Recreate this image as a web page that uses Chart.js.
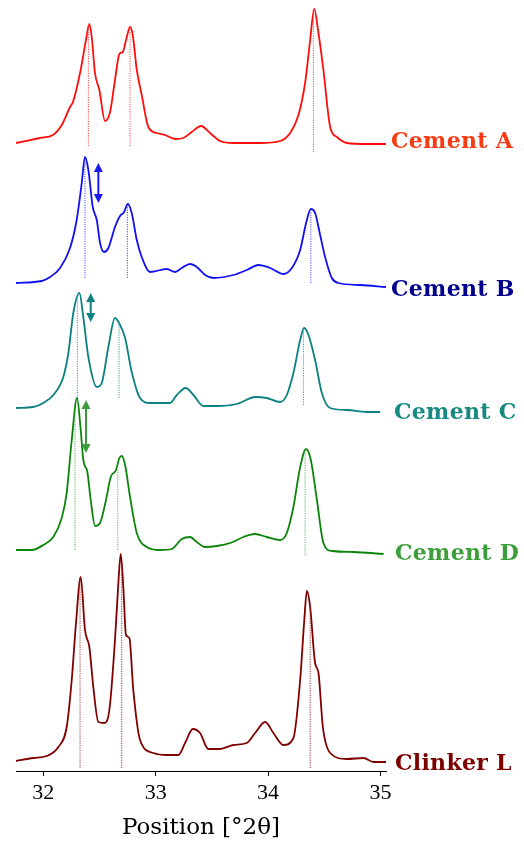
<!DOCTYPE html>
<html>
<head>
<meta charset="utf-8">
<script src="https://cdn.jsdelivr.net/npm/chart.js@4/dist/chart.umd.min.js"></script>
<style>
  html, body { margin: 0; padding: 0; background: #fff; }
  #wrap { width: 524px; height: 852px; position: relative; }
</style>
</head>
<body>
<div id="wrap"><canvas id="xrd"></canvas></div>
<script>
// X-ray diffraction patterns, 2θ between about 31.75 and 35.05 degrees
const positionTicks = [32, 33, 34, 35];
const seriesNames = ['Cement A', 'Cement B', 'Cement C', 'Cement D', 'Clinker L'];

const cementA_2theta = [31.757, 31.971, 32.086, 32.164, 32.238, 32.264, 32.327, 32.380, 32.410, 32.431, 32.460, 32.499, 32.549, 32.594, 32.638, 32.677, 32.707, 32.743, 32.772, 32.796, 32.832, 32.876, 32.935, 33.010, 33.084, 33.173, 33.247, 33.321, 33.404, 33.484, 33.573, 33.692, 33.930, 34.108, 34.197, 34.271, 34.330, 34.375, 34.411, 34.449, 34.493, 34.553, 34.613, 34.702, 34.880, 35.050];
const cementA_counts = [1, 6, 9, 19, 37, 42, 71, 104, 120, 107, 71, 54, 23, 32, 64, 90, 92, 107, 117, 109, 74, 49, 17, 11, 9, 5, 6, 12, 18, 11, 3, 1, 1, 3, 11, 29, 61, 104, 135, 111, 74, 17, 7, 1, 0, 0];

const cementB_2theta = [31.757, 31.986, 32.060, 32.149, 32.238, 32.297, 32.342, 32.371, 32.401, 32.440, 32.476, 32.505, 32.541, 32.579, 32.638, 32.683, 32.719, 32.752, 32.787, 32.832, 32.876, 32.950, 33.099, 33.173, 33.232, 33.306, 33.366, 33.440, 33.514, 33.692, 33.811, 33.915, 34.019, 34.137, 34.212, 34.286, 34.339, 34.381, 34.419, 34.464, 34.508, 34.568, 34.627, 34.820, 35.050];
const cementB_counts = [2, 4, 8, 17, 37, 65, 102, 128, 115, 78, 65, 42, 33, 37, 58, 69, 73, 81, 72, 45, 28, 13, 16, 13, 17, 21, 18, 10, 7, 10, 15, 20, 17, 11, 17, 35, 62, 76, 72, 50, 28, 7, 2, 0, -2];

const cementC_2theta = [31.757, 31.911, 32.000, 32.089, 32.178, 32.223, 32.267, 32.321, 32.356, 32.401, 32.476, 32.520, 32.579, 32.638, 32.683, 32.728, 32.787, 32.861, 32.950, 33.128, 33.188, 33.268, 33.336, 33.425, 33.544, 33.722, 33.885, 33.989, 34.108, 34.167, 34.226, 34.286, 34.321, 34.360, 34.419, 34.479, 34.553, 34.702, 34.880, 34.998];
const cementC_counts = [0, 1, 5, 13, 31, 55, 95, 115, 91, 51, 21, 25, 61, 90, 83, 70, 36, 10, 5, 5, 13, 20, 13, 2, 2, 4, 11, 10, 6, 13, 35, 68, 80, 73, 48, 15, 0, -2, -4, -4];

const cementD_2theta = [31.757, 31.897, 32.000, 32.089, 32.164, 32.208, 32.253, 32.300, 32.333, 32.356, 32.392, 32.422, 32.460, 32.505, 32.558, 32.600, 32.647, 32.677, 32.698, 32.728, 32.772, 32.832, 32.921, 33.039, 33.143, 33.232, 33.306, 33.366, 33.440, 33.544, 33.663, 33.781, 33.885, 33.989, 34.108, 34.167, 34.226, 34.286, 34.339, 34.381, 34.435, 34.493, 34.568, 34.760, 35.028];
const cementD_counts = [0, 0, 5, 13, 32, 57, 110, 152, 120, 90, 78, 50, 24, 27, 50, 73, 80, 92, 94, 85, 53, 17, 3, 0, 1, 11, 13, 8, 3, 4, 7, 13, 16, 13, 10, 17, 43, 83, 101, 90, 50, 7, -1, -2, -4];

const clinkerL_2theta = [31.757, 31.911, 32.030, 32.134, 32.208, 32.253, 32.291, 32.333, 32.371, 32.410, 32.445, 32.490, 32.541, 32.588, 32.638, 32.668, 32.689, 32.712, 32.736, 32.766, 32.801, 32.861, 32.980, 33.099, 33.202, 33.262, 33.330, 33.395, 33.469, 33.573, 33.692, 33.811, 33.885, 33.974, 34.048, 34.137, 34.226, 34.286, 34.321, 34.346, 34.375, 34.419, 34.449, 34.488, 34.553, 34.702, 34.850, 34.939, 35.050];
const clinkerL_counts = [-1, 2, 4, 13, 33, 80, 137, 183, 130, 113, 73, 38, 37, 50, 120, 177, 206, 173, 125, 122, 70, 20, 7, 5, 5, 17, 31, 27, 11, 11, 15, 17, 27, 38, 27, 15, 22, 80, 137, 169, 153, 97, 87, 33, 7, 1, 2, -2, -2];

// vertical shift that stacks each pattern above the next one
const stackOffsets = [627, 486, 363, 221, 11];

// reference peak positions (dotted drop lines): position, top and foot in counts
const peaksA = [32.401, 32.772, 34.404]; const peakTopsA = [120, 117, 135]; const peakFootA = [-2, -2, -8];
const peaksB = [32.371, 32.748, 34.381]; const peakTopsB = [128, 79, 76];  const peakFootB = [7, 7, 2];
const peaksC = [32.303, 32.674, 34.315]; const peakTopsC = [112, 86, 80];  const peakFootC = [10, 10, 3];
const peaksD = [32.282, 32.663, 34.330]; const peakTopsD = [140, 80, 101]; const peakFootD = [0, 0, -5];
const peaksL = [32.327, 32.698, 34.375]; const peakTopsL = [183, 195, 153]; const peakFootL = [-8, -8, -8];

// double arrows marking the drop of the first reflection
const arrowSeries = [1, 2, 3];
const arrowPos = [32.490, 32.422, 32.380];
const arrowUpper = [122, 115, 150];
const arrowLower = [82, 86, 97];

const lineColors  = ['#ff0d0d', '#1010f0', '#0a8080', '#0a850a', '#800000'];
const dropColors  = ['#ff4a4a', '#4a4aff', '#3a9a9a', '#55b055', '#a03030'];
const labelColors = ['#f53c14', '#00008c', '#168a82', '#3c9f3c', '#7c0000'];
const arrowColors = ['#1a1af0', '#0a8080', '#3c9a3c'];
const labelIndent = [5, 5, 8, 9, 9];
const labelShift = [-2, 5, 5, 4, 4];

const xs = [cementA_2theta, cementB_2theta, cementC_2theta, cementD_2theta, clinkerL_2theta];
const ys = [cementA_counts, cementB_counts, cementC_counts, cementD_counts, clinkerL_counts];
const peakPos = [peaksA, peaksB, peaksC, peaksD, peaksL];
const peakTop = [peakTopsA, peakTopsB, peakTopsC, peakTopsD, peakTopsL];
const peakFoot = [peakFootA, peakFootB, peakFootC, peakFootD, peakFootL];

const datasets = [];
// dotted drop lines go underneath the patterns
peakPos.forEach((list, s) => {
  list.forEach((p, k) => {
    datasets.push({
      data: [{ x: p, y: stackOffsets[s] + peakFoot[s][k] }, { x: p, y: stackOffsets[s] + peakTop[s][k] }],
      borderColor: dropColors[s], borderWidth: 1, borderDash: [1.2, 1.2],
      pointRadius: 0, tension: 0
    });
  });
});
seriesNames.forEach((name, s) => {
  datasets.push({
    label: name,
    data: xs[s].map((x, i) => ({ x: x, y: stackOffsets[s] + ys[s][i] })),
    borderColor: lineColors[s], borderWidth: 1.8,
    pointRadius: 0, cubicInterpolationMode: 'monotone'
  });
});

const sideLabels = {
  id: 'sideLabels',
  afterDatasetsDraw(chart) {
    const { ctx, chartArea, scales } = chart;
    ctx.save();
    ctx.font = 'bold 22px "DejaVu Serif"';
    if ('letterSpacing' in ctx) ctx.letterSpacing = '0.3px';
    ctx.textBaseline = 'middle';
    ctx.textAlign = 'left';
    seriesNames.forEach((name, s) => {
      const y = scales.y.getPixelForValue(stackOffsets[s]) + labelShift[s];
      ctx.fillStyle = labelColors[s];
      ctx.fillText(name, chartArea.right + labelIndent[s], y);
    });
    if ('letterSpacing' in ctx) ctx.letterSpacing = '0px';
    // double-headed arrows
    arrowSeries.forEach((s, k) => {
      const x = scales.x.getPixelForValue(arrowPos[k]);
      const y1 = scales.y.getPixelForValue(stackOffsets[s] + arrowUpper[k]);
      const y2 = scales.y.getPixelForValue(stackOffsets[s] + arrowLower[k]);
      ctx.strokeStyle = arrowColors[k];
      ctx.fillStyle = arrowColors[k];
      ctx.lineWidth = 2;
      ctx.beginPath(); ctx.moveTo(x, y1 + 6); ctx.lineTo(x, y2 - 6); ctx.stroke();
      ctx.beginPath(); ctx.moveTo(x, y1); ctx.lineTo(x - 4.5, y1 + 9); ctx.lineTo(x + 4.5, y1 + 9); ctx.closePath(); ctx.fill();
      ctx.beginPath(); ctx.moveTo(x, y2); ctx.lineTo(x - 4.5, y2 - 9); ctx.lineTo(x + 4.5, y2 - 9); ctx.closePath(); ctx.fill();
    });
    ctx.restore();
  }
};

new Chart(document.getElementById('xrd'), {
  type: 'line',
  data: { datasets: datasets },
  options: {
    responsive: true,
    maintainAspectRatio: false,
    animation: false,
    events: [],
    layout: { padding: { left: 16, right: 138, top: 0, bottom: 0 } },
    plugins: { legend: { display: false }, tooltip: { enabled: false } },
    scales: {
      x: {
        type: 'linear',
        min: 31.757,
        max: 35.05,
        afterBuildTicks: (axis) => { axis.ticks = positionTicks.map(v => ({ value: v })); },
        afterFit: (axis) => { axis.height = 81; },
        grid: { drawOnChartArea: false, drawTicks: true, tickLength: 5, color: '#000', lineWidth: 1 },
        border: { display: true, color: '#000', width: 1 },
        ticks: {
          color: '#000', padding: 4, maxRotation: 0,
          font: { family: '"Liberation Serif"', size: 22 },
          callback: (v) => String(v)
        },
        title: {
          display: true, text: 'Position [°2θ]', color: '#000',
          font: { family: '"DejaVu Serif"', size: 23 },
          padding: { top: 2, bottom: 10 }
        }
      },
      y: { display: false, min: 0, max: 771 }
    }
  },
  plugins: [sideLabels]
});
</script>
</body>
</html>
